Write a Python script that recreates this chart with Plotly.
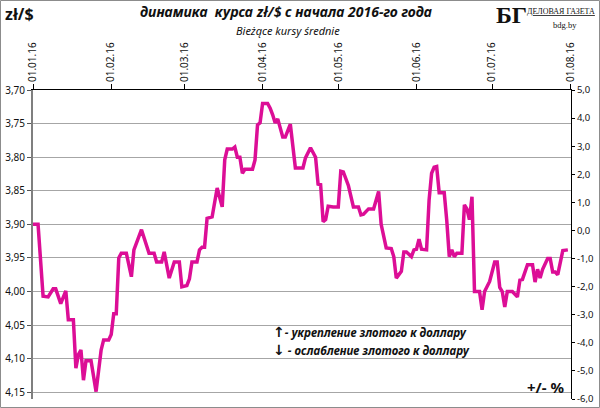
import plotly.graph_objects as go

# kurs zł/$ (NBP)
dates = [
    "2016-01-01", "2016-01-03", "2016-01-05", "2016-01-07", "2016-01-09", "2016-01-10",
    "2016-01-12", "2016-01-14", "2016-01-15", "2016-01-17", "2016-01-18", "2016-01-19",
    "2016-01-20", "2016-01-21", "2016-01-22", "2016-01-24", "2016-01-26", "2016-01-28",
    "2016-01-29", "2016-01-31", "2016-02-01", "2016-02-02", "2016-02-03", "2016-02-04",
    "2016-02-05", "2016-02-07", "2016-02-09", "2016-02-10", "2016-02-13", "2016-02-16",
    "2016-02-18", "2016-02-19", "2016-02-21", "2016-02-22", "2016-02-24", "2016-02-26",
    "2016-02-28", "2016-02-29", "2016-03-02", "2016-03-03", "2016-03-04", "2016-03-06",
    "2016-03-07", "2016-03-08", "2016-03-09", "2016-03-10", "2016-03-12", "2016-03-14",
    "2016-03-16", "2016-03-17", "2016-03-18", "2016-03-20", "2016-03-21", "2016-03-22",
    "2016-03-23", "2016-03-24", "2016-03-25", "2016-03-28", "2016-03-29", "2016-03-30",
    "2016-03-31", "2016-04-01", "2016-04-03", "2016-04-04", "2016-04-05", "2016-04-06",
    "2016-04-07", "2016-04-09", "2016-04-10", "2016-04-12", "2016-04-14", "2016-04-17",
    "2016-04-18", "2016-04-20", "2016-04-22", "2016-04-23", "2016-04-24", "2016-04-25",
    "2016-04-26", "2016-04-27", "2016-04-29", "2016-05-01", "2016-05-02", "2016-05-03",
    "2016-05-05", "2016-05-07", "2016-05-09", "2016-05-10", "2016-05-11", "2016-05-13",
    "2016-05-15", "2016-05-17", "2016-05-18", "2016-05-19", "2016-05-20", "2016-05-22",
    "2016-05-23", "2016-05-24", "2016-05-26", "2016-05-27", "2016-05-28", "2016-05-30",
    "2016-05-31", "2016-06-01", "2016-06-02", "2016-06-03", "2016-06-05", "2016-06-06",
    "2016-06-07", "2016-06-08", "2016-06-09", "2016-06-10", "2016-06-12", "2016-06-13",
    "2016-06-14", "2016-06-15", "2016-06-16", "2016-06-17", "2016-06-19", "2016-06-20",
    "2016-06-21", "2016-06-22", "2016-06-23", "2016-06-24", "2016-06-26", "2016-06-27",
    "2016-06-28", "2016-06-30", "2016-07-02", "2016-07-03", "2016-07-04", "2016-07-05",
    "2016-07-06", "2016-07-07", "2016-07-09", "2016-07-11", "2016-07-12", "2016-07-13",
    "2016-07-15", "2016-07-17", "2016-07-18", "2016-07-19", "2016-07-20", "2016-07-21",
    "2016-07-23", "2016-07-24", "2016-07-25", "2016-07-26", "2016-07-27", "2016-07-29",
    "2016-07-31",
]
kurs = [
    3.900, 3.900, 4.007, 4.008, 3.996, 3.996,
    4.018, 3.999, 4.042, 4.042, 4.114, 4.094,
    4.087, 4.132, 4.103, 4.103, 4.149, 4.087,
    4.072, 4.072, 4.064, 4.033, 4.033, 3.950,
    3.943, 3.943, 3.978, 3.938, 3.908, 3.943,
    3.943, 3.956, 3.956, 3.941, 3.980, 3.956,
    3.956, 3.993, 3.991, 3.981, 3.956, 3.956,
    3.938, 3.934, 3.934, 3.891, 3.889, 3.846,
    3.874, 3.804, 3.788, 3.788, 3.785, 3.800,
    3.800, 3.824, 3.818, 3.818, 3.804, 3.752,
    3.749, 3.720, 3.720, 3.727, 3.737, 3.749,
    3.743, 3.770, 3.770, 3.751, 3.816, 3.816,
    3.801, 3.786, 3.800, 3.840, 3.841, 3.896,
    3.893, 3.873, 3.874, 3.874, 3.821, 3.822,
    3.842, 3.874, 3.874, 3.886, 3.885, 3.877,
    3.877, 3.851, 3.900, 3.919, 3.935, 3.936,
    3.948, 3.980, 3.970, 3.941, 3.941, 3.948,
    3.938, 3.937, 3.922, 3.937, 3.938, 3.864,
    3.824, 3.815, 3.814, 3.853, 3.853, 3.894,
    3.948, 3.938, 3.948, 3.943, 3.943, 3.871,
    3.877, 3.893, 3.859, 4.000, 4.000, 4.027,
    4.000, 3.985, 3.956, 3.956, 3.994, 4.000,
    4.023, 4.000, 4.000, 4.008, 3.983, 3.982,
    3.960, 3.960, 3.986, 3.967, 3.980, 3.967,
    3.951, 3.951, 3.971, 3.971, 3.975, 3.939,
    3.938,
]

month_ticks = ["2016-01-01", "2016-02-01", "2016-03-01", "2016-04-01",
               "2016-05-01", "2016-06-01", "2016-07-01", "2016-08-01"]
month_labels = ["01.01.16", "01.02.16", "01.03.16", "01.04.16",
                "01.05.16", "01.06.16", "01.07.16", "01.08.16"]
left_ticks = [3.70, 3.75, 3.80, 3.85, 3.90, 3.95, 4.00, 4.05, 4.10, 4.15]
right_ticks = [5, 4, 3, 2, 1, 0, -1, -2, -3, -4, -5, -6]

FONT = "Noto Sans"
L, R, T, B = 33, 571, 90, 399  # plot area in pixels


def px(x):
    return (x - L) / (R - L)


def py(y):
    return (B - y) / (B - T)


fig = go.Figure()
fig.add_trace(go.Scatter(x=dates, y=kurs, mode="lines",
                         line=dict(color="#DC0E96", width=3.5), showlegend=False))
fig.add_trace(go.Scatter(x=[dates[0]], y=[0], yaxis="y2", mode="markers",
                         marker=dict(opacity=0), hoverinfo="skip", showlegend=False))

fig.update_layout(
    width=600, height=408,
    margin=dict(l=L, r=600 - R, t=T, b=408 - B),
    paper_bgcolor="white", plot_bgcolor="white",
    font=dict(family=FONT, size=10, color="#111"),
    xaxis=dict(
        type="date", side="top", range=["2016-01-01", "2016-08-01 06:00"],
        tickvals=month_ticks, ticktext=month_labels, tickangle=-90,
        tickfont=dict(size=10, color="#111"), automargin=False,
        showgrid=False, showline=True, linecolor="black", linewidth=1,
        ticks="outside", ticklen=5, tickcolor="black", zeroline=False,
    ),
    yaxis=dict(
        range=[4.16, 3.70], tickvals=left_ticks, automargin=False,
        ticktext=[f"{v:.2f}".replace(".", ",") for v in left_ticks],
        tickfont=dict(size=10, color="#111"),
        showgrid=True, gridcolor="#A6A6A6", gridwidth=1.3,
        showline=True, linecolor="#7F7F7F", linewidth=2,
        ticks="outside", ticklen=4, tickcolor="#555", zeroline=False,
    ),
    yaxis2=dict(
        overlaying="y", side="right", range=[-6, 5], tickvals=right_ticks, automargin=False,
        ticktext=[f"{v:.1f}".replace(".", ",") for v in right_ticks],
        tickfont=dict(size=9.5, color="#111"),
        showgrid=False, showline=True, linecolor="black", linewidth=1,
        ticks="outside", ticklen=3, tickcolor="black", zeroline=False,
    ),
)

ARROW = "<span style='font-family:DejaVu Sans;font-size:14px'>{}</span>"

# (text, x px, y px, anchor, size, family)
notes = [
    ("<b>zł/$</b>", 3, 14, "left", 16, FONT),
    ("<b><i>динамика  курса zł/$ с начала 2016-го года</i></b>", 286, 12, "center", 14, FONT),
    ("<i>Bieżące kursy średnie</i>", 288, 30, "center", 11, FONT),
    ("<b>БГ</b>", 529, 15, "right", 24, "Liberation Serif"),
    ("<u>ДЕЛОВАЯ ГАЗЕТА</u>", 597, 12, "right", 8, "Liberation Serif"),
    ("bdg.by", 565, 25, "center", 8.5, "Liberation Serif"),
    ("<b>" + ARROW.format("↑") + "<i>- укрепление злотого к доллару</i></b>", 271, 332, "left", 11.5, FONT),
    ("<b>" + ARROW.format("↓") + "<i> - ослабление злотого к доллару</i></b>", 271, 350, "left", 11.5, FONT),
    ("<b>+/- %</b>", 567, 387, "right", 15, FONT),
]
for text, x, y, anchor, size, fam in notes:
    fig.add_annotation(xref="paper", yref="paper", x=px(x), y=py(y), text=text,
                       showarrow=False, xanchor=anchor, yanchor="middle",
                       font=dict(family=fam, size=size, color="#111"))

# рамка
fig.add_shape(type="rect", xref="paper", yref="paper",
              x0=px(0.5), x1=px(599.5), y0=py(407.5), y1=py(0.5),
              line=dict(color="#8C8C8C", width=1))

fig.write_html("out.html", config={"displayModeBar": False},
               post_script="document.body.style.margin='0';")
